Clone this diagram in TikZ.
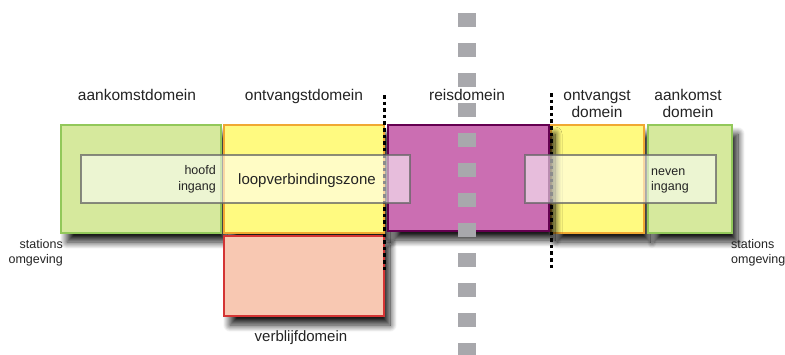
\documentclass[tikz,border=0pt]{standalone}
\usepackage{fontspec}
\setmainfont{Liberation Sans}
\usetikzlibrary{shadows.blur}
\definecolor{grfill}{RGB}{214,233,157}
\definecolor{grline}{RGB}{146,200,90}
\definecolor{yefill}{RGB}{255,250,128}
\definecolor{yeline}{RGB}{240,168,50}
\definecolor{safill}{RGB}{248,200,178}
\definecolor{saline}{RGB}{212,52,52}
\definecolor{pufill}{RGB}{203,110,178}
\definecolor{puline}{RGB}{100,0,80}
\definecolor{sqgray}{RGB}{168,168,172}
\definecolor{txt}{RGB}{35,35,35}
\tikzset{
  domainbox/.style={draw, line width=2pt, inner sep=0pt, outer sep=0pt, anchor=north west,
    blur shadow={shadow xshift=6pt, shadow yshift=-9pt, shadow blur radius=7pt, shadow blur steps=14, shadow opacity=90}},
  zonebox/.style={draw=black!60, draw opacity=0.75, fill=white, fill opacity=0.55, line width=2pt,
    inner sep=0pt, outer sep=0pt, anchor=north west},
  biglabel/.style={font=\fontsize{15.5}{18}\selectfont, text=txt, inner sep=0pt, anchor=base},
  smalllabel/.style={font=\fontsize{12.5}{15}\selectfont, text=txt, inner sep=0pt},
  borderline/.style={line width=3.6pt, dash pattern=on 3.6pt off 3pt, black},
  railline/.style={line width=18pt, dash pattern=on 14pt off 16pt, sqgray}
}
\begin{document}
\begin{tikzpicture}[x=1pt,y=1pt]
\useasboundingbox (0,0) rectangle (785,-354);
% domain boxes
\node[domainbox, fill=grfill, draw=grline, minimum width=160pt, minimum height=108pt] (gl) at (61,-125) {};
\node[domainbox, fill=yefill, draw=yeline, minimum width=160pt, minimum height=108pt] (yl) at (224,-125) {};
\node[domainbox, fill=safill, draw=saline, minimum width=160pt, minimum height=80pt] (sa) at (224,-236) {};
\node[domainbox, fill=yefill, draw=yeline, minimum width=93pt, minimum height=108pt] (yr) at (551,-125) {};
\node[domainbox, fill=grfill, draw=grline, minimum width=84pt, minimum height=108pt] (gr) at (648,-125) {};
\node[domainbox, fill=pufill, draw=puline, minimum width=161pt, minimum height=106pt] (pu) at (388,-125) {};
% rail line
\coordinate (railtop) at (467,-13);
\coordinate (railbot) at (467,-360);
\draw[railline] (railtop) -- (railbot);
% domain borders
\coordinate (bl1) at (384.5,-95);
\coordinate (bl2) at (384.5,-270);
\coordinate (br1) at (551.5,-93);
\coordinate (br2) at (551.5,-270);
\draw[borderline] (bl1) -- (bl2);
\draw[borderline] (br1) -- (br2);
% walking zones
\node[zonebox, minimum width=329pt, minimum height=48pt] (zl) at (81,-155) {};
\node[zonebox, minimum width=191pt, minimum height=48pt] (zr) at (525,-155) {};
% labels
\node[biglabel] (t1) at (137,-100) {aankomstdomein};
\node[biglabel] (t2) at (304,-100) {ontvangstdomein};
\node[biglabel] (t3) at (467,-100) {reisdomein};
\node[biglabel] (t4a) at (597,-100) {ontvangst};
\node[biglabel] (t4b) at (597,-117) {domein};
\node[biglabel] (t5a) at (688,-100) {aankomst};
\node[biglabel] (t5b) at (688,-117) {domein};
\node[smalllabel, anchor=base east] (h1) at (216,-174) {hoofd};
\node[smalllabel, anchor=base east] (h2) at (216,-190) {ingang};
\node[biglabel, font=\fontsize{15}{18}\selectfont] (lz) at (307,-184) {loopverbindingszone};
\node[smalllabel, anchor=base west] (n1) at (651,-175) {neven};
\node[smalllabel, anchor=base west] (n2) at (651,-190) {ingang};
\node[smalllabel, anchor=base east] (s1) at (63,-248) {stations};
\node[smalllabel, anchor=base east] (s2) at (63,-263) {omgeving};
\node[smalllabel, anchor=base west] (s3) at (731,-248) {stations};
\node[smalllabel, anchor=base west] (s4) at (731,-263) {omgeving};
\node[biglabel, font=\fontsize{15}{18}\selectfont] (vb) at (301,-341) {verblijfdomein};
\end{tikzpicture}
\end{document}
